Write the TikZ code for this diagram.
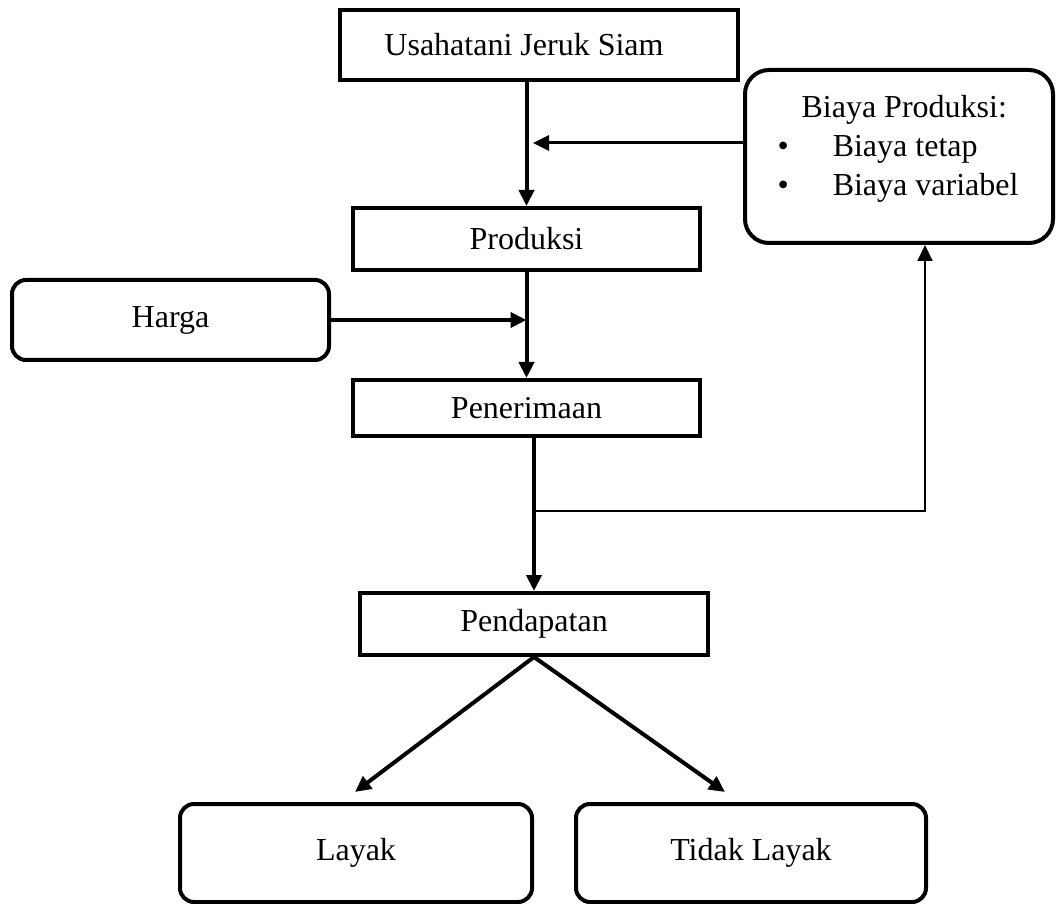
\documentclass[tikz,border=0pt]{standalone}
\usepackage{fontspec}
\setmainfont{Liberation Serif}
\usetikzlibrary{arrows.meta, calc, positioning}

\begin{document}
\begin{tikzpicture}[x=0.5pt, y=-0.5pt,
    every node/.style={font=\fontsize{16}{19.5}\selectfont},
    kotak/.style={draw, line width=2pt, inner sep=0pt},
    kotakbulat/.style={kotak, rounded corners=7pt},
    panah/.style={line width=2pt, -{Triangle[length=8pt, width=7.5pt]}},
    panahtipis/.style={line width=1.5pt, -{Triangle[length=8pt, width=7.5pt]}},
    garis/.style={line width=1pt, -{Triangle[length=8pt, width=7.5pt]}}]

    \useasboundingbox (0,0) rectangle (1057,904);

    \node[kotak, minimum width=199pt, minimum height=35pt] (usaha) at (539,45) {Usahatani Jeruk Siam\hspace*{15pt}};
    \node[kotak, minimum width=173.5pt, minimum height=31pt] (produksi) at (526.5,239) {Produksi};
    \node[kotakbulat, rounded corners=12pt, minimum width=154pt, minimum height=86.5pt] (biaya) at (899,156.5) {};
    \node[inner sep=0pt] (biayateks) at (898,149) {\def\arraystretch{1.0}%
        \begin{tabular}{@{}c@{\hspace{22pt}}l@{}}
            \multicolumn{2}{@{\hspace{12pt}}l@{}}{Biaya Produksi:}\\
            \textbullet & Biaya tetap\\
            \textbullet & Biaya variabel
        \end{tabular}};
    \node[kotakbulat, minimum width=158.5pt, minimum height=40pt] (harga) at (170.5,320) {Harga};
    \node[kotak, minimum width=173.5pt, minimum height=28pt] (penerimaan) at (526.5,408) {Penerimaan};
    \node[kotak, minimum width=174pt, minimum height=31pt] (pendapatan) at (534,624) {Pendapatan};
    \node[kotakbulat, minimum width=176pt, minimum height=49pt] (layak) at (356,853) {Layak};
    \node[kotakbulat, minimum width=175pt, minimum height=49pt] (tidak) at (751,853) {Tidak Layak};

    \coordinate (masuk) at (533,143);
    \coordinate (cabang) at (534,511);
    \coordinate (siku) at (925,511);

    \draw[panah] (usaha.south -| produksi.north) -- (produksi.north);
    \draw[panahtipis] (biaya.west |- masuk) -- (masuk);
    \draw[panah] (harga.east) -- (harga.east -| produksi.south);
    \draw[panah] (produksi.south) -- (penerimaan.north);
    \draw[panah] (penerimaan.south -| pendapatan.north) -- (pendapatan.north);
    \draw[garis] (cabang) -- (siku) -- (siku |- biaya.south);
    \draw[panah] (pendapatan.south) -- ([xshift=-0.5pt, yshift=5pt]layak.north);
    \draw[panah] (pendapatan.south) -- ([xshift=-13pt, yshift=5pt]tidak.north);
\end{tikzpicture}
\end{document}
